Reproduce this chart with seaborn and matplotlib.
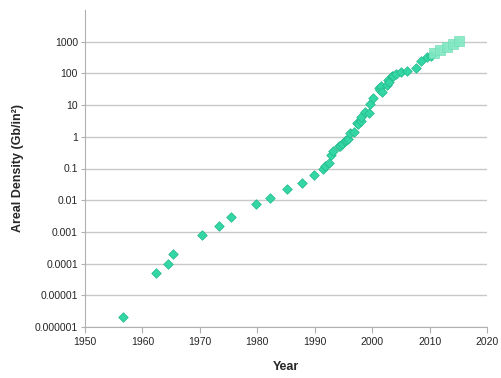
import numpy as np
import pandas as pd
import matplotlib
matplotlib.use("Agg")
import matplotlib.pyplot as plt
import seaborn as sns

# historical drives (diamonds)
years = [1956.7, 1962.4, 1964.4, 1965.4, 1970.4, 1973.4, 1975.4, 1979.7, 1982.2,
         1985.1, 1987.7, 1989.8, 1991.4, 1991.8, 1992.5, 1992.9, 1993.2, 1994.2,
         1994.4, 1994.8, 1995.2, 1995.4, 1995.8, 1996.2, 1996.9, 1997.3, 1997.5,
         1998.0, 1998.1, 1998.7, 1999.4, 1999.7, 2000.2, 2001.2, 2001.4, 2001.6,
         2001.8, 2002.6, 2002.8, 2002.9, 2003.5, 2003.7, 2004.1, 2005.0, 2006.0,
         2007.7, 2008.5, 2009.6, 2010.2]
density = [2e-6, 5e-5, 1e-4, 2e-4, 8e-4, 1.5e-3, 3e-3, 7.6e-3, 0.012,
           0.022, 0.036, 0.063, 0.10, 0.12, 0.15, 0.27, 0.35, 0.5,
           0.5, 0.6, 0.72, 0.8, 0.86, 1.3, 1.4, 2.7, 2.6,
           3.1, 4.2, 6.0, 5.6, 10.7, 17, 35, 31, 39,
           26, 44, 60, 52, 85, 85, 98, 107, 123,
           148, 250, 330, 345]

# projected (squares)
proj_years = [2010.8, 2011.8, 2013.0, 2014.0, 2015.1]
proj_density = [440, 560, 660, 850, 1020]

yticks = [1e-6, 1e-5, 1e-4, 1e-3, 1e-2, 0.1, 1, 10, 100, 1000]
ytick_labels = ["0.000001", "0.00001", "0.0001", "0.001", "0.01", "0.1",
                "1", "10", "100", "1000"]

df = pd.DataFrame({"Year": years, "Density": density})
proj = pd.DataFrame({"Year": proj_years, "Density": proj_density})

sns.set_style("white")
plt.rcParams["font.family"] = ["Liberation Sans", "DejaVu Sans"]

fig = plt.figure(figsize=(5.01, 3.78), dpi=100)
ax = fig.add_axes([85 / 501, 51 / 378, 402 / 501, 317 / 378])

sns.scatterplot(data=df, x="Year", y="Density", ax=ax, marker="D", s=24,
                color="#33d6a4", edgecolor="#22b98a", linewidth=0.5, zorder=3)
sns.scatterplot(data=proj, x="Year", y="Density", ax=ax, marker="s", s=55,
                color="#80e8c3", edgecolor="#70dbb4", linewidth=0.5, alpha=0.9,
                zorder=4)

ax.set_yscale("log")
ax.set_ylim(1e-6, 1e4)
ax.set_xlim(1950, 2020)
ax.set_yticks(yticks)
ax.set_yticklabels(ytick_labels)
ax.minorticks_off()
ax.set_xticks(np.arange(1950, 2021, 10))

ax.grid(axis="y", color="#c8c8c8", linewidth=1)
ax.set_axisbelow(True)
for side in ["top", "right"]:
    ax.spines[side].set_visible(False)
ax.spines["left"].set_color("#b0b0b0")
ax.spines["bottom"].set_color("#b0b0b0")
ax.tick_params(axis="x", which="major", bottom=True, length=4, color="#b0b0b0",
               labelsize=7.5, pad=3)
ax.tick_params(axis="y", which="major", left=True, length=3, color="#b0b0b0",
               labelsize=7.5, pad=2)

ax.set_xlabel("Year", fontsize=9, fontweight="bold", labelpad=10)
ax.set_ylabel("Areal Density (Gb/in²)", fontsize=9, fontweight="bold", labelpad=8)

fig.savefig("out.png", dpi=100)
